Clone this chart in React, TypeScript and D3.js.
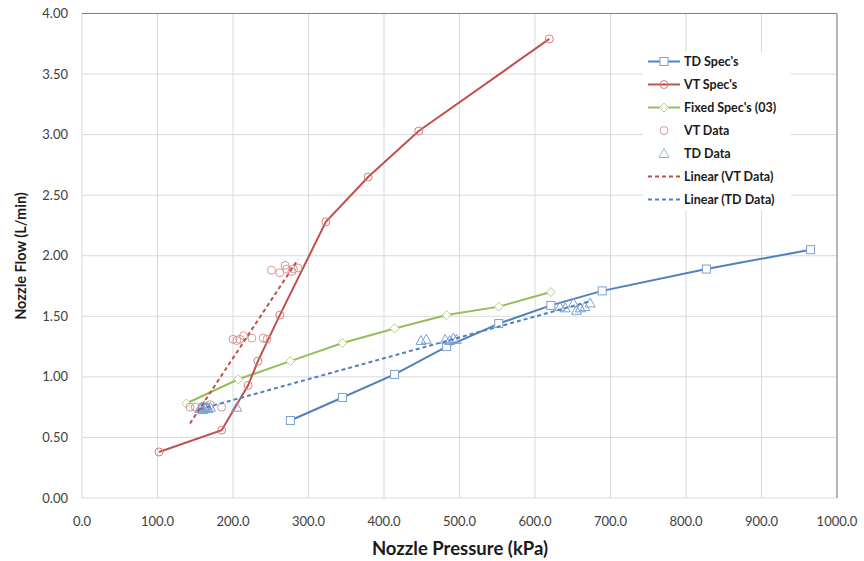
import * as d3 from "d3";

// Spec curves (pressure kPa, flow L/min)
const tdSpecP = [276, 345, 414, 483, 552, 621, 689, 827, 965];
const tdSpecQ = [0.64, 0.83, 1.02, 1.25, 1.44, 1.59, 1.71, 1.89, 2.05];
const vtSpecP = [102, 185, 220, 233, 262, 323, 379, 446, 619];
const vtSpecQ = [0.38, 0.56, 0.93, 1.13, 1.51, 2.28, 2.65, 3.03, 3.79];
const fixedP = [138, 207, 276, 345, 414, 483, 552, 621];
const fixedQ = [0.78, 0.98, 1.13, 1.28, 1.4, 1.51, 1.58, 1.7];

// Measured data
const vtDataP = [143, 150, 165, 170, 185, 200, 205, 209, 214, 225, 240, 245, 251, 262, 269, 271, 278, 280, 286];
const vtDataQ = [0.75, 0.75, 0.75, 0.77, 0.75, 1.31, 1.3, 1.31, 1.34, 1.32, 1.32, 1.31, 1.88, 1.86, 1.92, 1.89, 1.87, 1.89, 1.9];
const tdDataP = [156, 158, 160, 162, 163, 165, 167, 170, 205, 449, 456, 481, 487, 492, 496, 633, 640, 651, 655, 660, 666, 673];
const tdDataQ = [0.74, 0.75, 0.73, 0.76, 0.74, 0.75, 0.74, 0.75, 0.75, 1.3, 1.31, 1.31, 1.3, 1.32, 1.31, 1.58, 1.57, 1.61, 1.55, 1.57, 1.58, 1.61];

const xTicks = [0, 100, 200, 300, 400, 500, 600, 700, 800, 900, 1000];
const yTicks = [0, 0.5, 1, 1.5, 2, 2.5, 3, 3.5, 4];

const legendLabels = ["TD Spec's", "VT Spec's", "Fixed Spec's (03)", "VT Data", "TD Data", "Linear (VT Data)", "Linear (TD Data)"];

const BLUE = "#4f81bd";
const RED = "#c0504d";
const GREEN = "#9bbb59";
const FONT = "Lato, 'Open Sans', sans-serif";

function zip(xs: number[], ys: number[]): [number, number][] {
  return xs.map((x, i) => [x, ys[i]]);
}

// least squares line over the data, from min x to max x
function linearFit(xs: number[], ys: number[]): [number, number][] {
  const mx = d3.mean(xs)!;
  const my = d3.mean(ys)!;
  let sxy = 0, sxx = 0;
  xs.forEach((x, i) => {
    sxy += (x - mx) * (ys[i] - my);
    sxx += (x - mx) * (x - mx);
  });
  const b = sxy / sxx;
  const a = my - b * mx;
  const [x0, x1] = d3.extent(xs) as [number, number];
  return [[x0, a + b * x0], [x1, a + b * x1]];
}

function Marker({ kind, x, y, color }: { kind: string; x: number; y: number; color: string }) {
  if (kind === "square")
    return <rect x={x - 4} y={y - 4} width={8} height={8} fill="white" stroke={color} strokeWidth={1} />;
  if (kind === "circle")
    return <circle cx={x} cy={y} r={4} fill="none" stroke={color} strokeWidth={1} />;
  if (kind === "diamond")
    return <path d={`M${x},${y - 4.5}L${x + 4.5},${y}L${x},${y + 4.5}L${x - 4.5},${y}Z`} fill="white" stroke={color} strokeWidth={1} />;
  return <path d={`M${x},${y - 5}L${x + 5},${y + 4}L${x - 5},${y + 4}Z`} fill="none" stroke={color} strokeWidth={1} />;
}

export default function App() {
  const width = 864, height = 561;
  const left = 82, right = 837, top = 13.5, bottom = 498;

  const x = d3.scaleLinear().domain([0, 1000]).range([left, right]);
  const y = d3.scaleLinear().domain([0, 4]).range([bottom, top]);
  const line = d3.line<[number, number]>().x(d => x(d[0])).y(d => y(d[1]));

  const vtFit = linearFit(vtDataP, vtDataQ);
  const tdFit = linearFit(tdDataP, tdDataQ);

  const specSeries = [
    { pts: zip(fixedP, fixedQ), color: GREEN, kind: "diamond", mcolor: "#b5cf8a" },
    { pts: zip(tdSpecP, tdSpecQ), color: BLUE, kind: "square", mcolor: "#7da0cf" },
    { pts: zip(vtSpecP, vtSpecQ), color: RED, kind: "circle", mcolor: "#d3807e" },
  ];

  const legend = [
    { label: legendLabels[0], color: BLUE, mcolor: "#7da0cf", kind: "square", line: "solid" },
    { label: legendLabels[1], color: RED, mcolor: "#d3807e", kind: "circle", line: "solid" },
    { label: legendLabels[2], color: GREEN, mcolor: "#b5cf8a", kind: "diamond", line: "solid" },
    { label: legendLabels[3], color: RED, mcolor: "#d99694", kind: "circle", line: "none" },
    { label: legendLabels[4], color: BLUE, mcolor: "#95b3d7", kind: "triangle", line: "none" },
    { label: legendLabels[5], color: RED, mcolor: RED, kind: "", line: "dash" },
    { label: legendLabels[6], color: BLUE, mcolor: BLUE, kind: "", line: "dash" },
  ];

  return (
    <svg width={width} height={height} style={{ position: "absolute", left: 0, top: 0, background: "white" }} fontFamily={FONT}>
      <rect width={width} height={height} fill="white" />
      {/* grid */}
      {xTicks.map(t => (
        <line key={"gx" + t} x1={x(t)} x2={x(t)} y1={top} y2={bottom} stroke="#d9d9d9" strokeWidth={1} />
      ))}
      {yTicks.map(t => (
        <line key={"gy" + t} x1={left} x2={right} y1={y(t)} y2={y(t)} stroke="#d9d9d9" strokeWidth={1} />
      ))}
      <line x1={left} x2={right} y1={top} y2={top} stroke="#808080" strokeWidth={1} />
      <line x1={right} x2={right} y1={top} y2={bottom} stroke="#808080" strokeWidth={1} />

      {/* tick labels */}
      {xTicks.map(t => (
        <text key={"tx" + t} x={x(t)} y={526} textAnchor="middle" fontSize={13} fill="#404040">
          {d3.format(".1f")(t)}
        </text>
      ))}
      {yTicks.map(t => (
        <text key={"ty" + t} x={68} y={y(t) + 4.5} textAnchor="end" fontSize={13} fill="#404040">
          {d3.format(".2f")(t)}
        </text>
      ))}

      {/* axis titles */}
      <text x={460} y={555} textAnchor="middle" fontSize={18.5} fontWeight="bold" fill="#1a1a1a">
        Nozzle Pressure (kPa)
      </text>
      <text transform={`translate(26,256) rotate(-90)`} textAnchor="middle" fontSize={14.5} fontWeight="bold" fill="#1a1a1a">
        Nozzle Flow (L/min)
      </text>

      {/* spec lines */}
      {specSeries.map((s, i) => (
        <path key={"sl" + i} d={line(s.pts)!} fill="none" stroke={s.color} strokeWidth={2} />
      ))}
      {specSeries.map((s, i) =>
        s.pts.map((p, j) => <Marker key={`sm${i}-${j}`} kind={s.kind} x={x(p[0])} y={y(p[1])} color={s.mcolor} />)
      )}

      {/* data */}
      {vtDataP.map((p, i) => (
        <Marker key={"vd" + i} kind="circle" x={x(p)} y={y(vtDataQ[i])} color="#d99694" />
      ))}
      {tdDataP.map((p, i) => (
        <Marker key={"td" + i} kind="triangle" x={x(p)} y={y(tdDataQ[i])} color="#7da0cf" />
      ))}

      {/* trend lines */}
      <path d={line(vtFit)!} fill="none" stroke={RED} strokeWidth={2} strokeDasharray="4,3" />
      <path d={line(tdFit)!} fill="none" stroke={BLUE} strokeWidth={2} strokeDasharray="4,3" />

      {/* legend */}
      <rect x={643} y={52} width={148} height={158} fill="white" />
      {legend.map((l, i) => {
        const ly = 61.5 + i * 23;
        return (
          <g key={"lg" + i}>
            {l.line !== "none" && (
              <line x1={648} x2={680} y1={ly} y2={ly} stroke={l.color} strokeWidth={2} strokeDasharray={l.line === "dash" ? "4,3" : undefined} />
            )}
            {l.kind && <Marker kind={l.kind} x={664} y={ly} color={l.mcolor} />}
            <text x={684} y={ly + 4.5} fontSize={12.5} fontWeight="bold" fill="#1a1a1a">
              {l.label}
            </text>
          </g>
        );
      })}
    </svg>
  );
}
